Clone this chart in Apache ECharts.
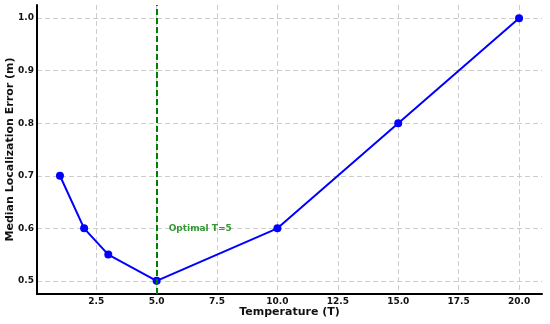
<!DOCTYPE html>
<html>
<head>
<meta charset="utf-8">
<script src="https://cdn.jsdelivr.net/npm/echarts@6/dist/echarts.min.js"></script>
<style>
html, body { margin: 0; padding: 0; background: #fff; }
#chart { width: 550px; height: 324px; }
</style>
</head>
<body>
<div id="chart"></div>
<script>
// data
var temperature = [1, 2, 3, 5, 10, 15, 20];
var medianError = [0.7, 0.6, 0.55, 0.5, 0.6, 0.8, 1.0];
var xTicks = [2.5, 5, 7.5, 10, 12.5, 15, 17.5, 20];
var yTicks = [0.5, 0.6, 0.7, 0.8, 0.9, 1.0];
var optimalT = 5;
var annotation = [[5.5, 0.6]];
var annotationText = 'Optimal T=5';

var font = 'DejaVu Sans';
var chart = echarts.init(document.getElementById('chart'));

var points = temperature.map(function (t, i) { return [t, medianError[i]]; });

chart.setOption({
    animation: false,
    grid: { left: 37, right: 8, top: 5, bottom: 30, containLabel: false, outerBoundsMode: 'none' },
    xAxis: {
        type: 'value',
        min: 0.05,
        max: 20.95,
        name: 'Temperature (T)',
        nameLocation: 'middle',
        nameGap: 13,
        nameMoveOverlap: false,
        nameTextStyle: { fontFamily: font, fontWeight: 'bold', fontSize: 11, color: '#111' },
        axisLine: { show: true, onZero: false, lineStyle: { color: '#000', width: 2 } },
        axisTick: { show: false, customValues: xTicks },
        axisLabel: {
            customValues: xTicks,
            margin: 3,
            fontFamily: font, fontWeight: 'bold', fontSize: 9, color: '#111',
            formatter: function (v) { return v.toFixed(1); }
        },
        splitLine: { show: true, lineStyle: { color: '#cccccc', type: [5, 3], width: 1 } }
    },
    yAxis: {
        type: 'value',
        min: 0.475,
        max: 1.025,
        name: 'Median Localization Error (m)',
        nameLocation: 'middle',
        nameGap: 21,
        nameMoveOverlap: false,
        nameTextStyle: { fontFamily: font, fontWeight: 'bold', fontSize: 11, color: '#111' },
        axisLine: { show: true, onZero: false, lineStyle: { color: '#000', width: 2 } },
        axisTick: { show: false, customValues: yTicks },
        axisLabel: {
            customValues: yTicks,
            margin: 3,
            fontFamily: font, fontWeight: 'bold', fontSize: 9, color: '#111',
            formatter: function (v) { return v.toFixed(1); }
        },
        splitLine: { show: true, lineStyle: { color: '#cccccc', type: [5, 3], width: 1 } }
    },
    series: [
        {
            type: 'line',
            data: points,
            symbol: 'circle',
            symbolSize: 8,
            lineStyle: { color: '#0000ff', width: 2 },
            itemStyle: { color: '#0000ff' },
            z: 3,
            markLine: {
                silent: true,
                symbol: 'none',
                label: { show: false },
                lineStyle: { color: '#008000', type: [6, 3], width: 2 },
                data: [{ xAxis: optimalT }]
            }
        },
        {
            type: 'scatter',
            data: annotation,
            symbolSize: 0,
            silent: true,
            label: {
                show: true,
                position: 'right',
                distance: 0,
                formatter: annotationText,
                fontFamily: font, fontWeight: 'bold', fontSize: 9, color: '#008000'
            }
        }
    ]
});
</script>
</body>
</html>
